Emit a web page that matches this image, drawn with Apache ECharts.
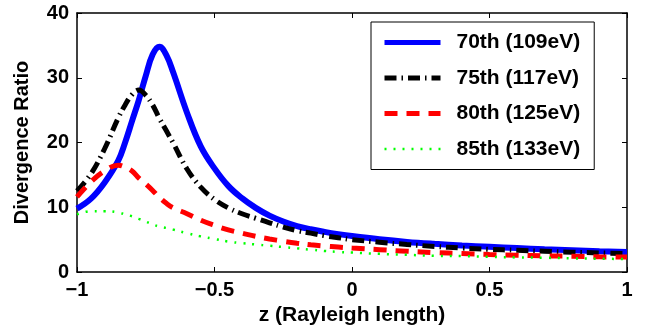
<!DOCTYPE html>
<html>
<head>
<meta charset="utf-8">
<script src="https://cdn.jsdelivr.net/npm/echarts@6.0.0/dist/echarts.min.js"></script>
<style>
  html, body { margin: 0; padding: 0; background: #fff; }
  #chart { width: 646px; height: 333px; }
</style>
</head>
<body>
<div id="chart"></div>
<script>
// z positions (Rayleigh lengths) where the curves were read
const zValues = [-1, -0.95, -0.9, -0.85, -0.825, -0.8, -0.775, -0.75, -0.725, -0.7,
  -0.675, -0.65, -0.6, -0.55, -0.5, -0.45, -0.4, -0.35, -0.3, -0.25, -0.2, -0.15,
  -0.1, -0.05, 0, 0.1, 0.2, 0.3, 0.4, 0.5, 0.6, 0.7, 0.8, 0.9, 1];

const h70 = [9.8, 11.3, 13.8, 17.2, 20.0, 23.3, 26.6, 30.3, 33.6, 34.8,
  33.5, 30.8, 24.6, 19.4, 16.0, 13.3, 11.4, 9.9, 8.7, 7.8, 7.1, 6.6,
  6.2, 5.85, 5.55, 5.05, 4.65, 4.35, 4.1, 3.9, 3.7, 3.5, 3.35, 3.2, 3.1];
const h75 = [12.5, 15.1, 19.0, 23.8, 25.8, 27.4, 28.1, 27.3, 25.8, 23.7,
  21.8, 19.9, 15.9, 13.1, 11.2, 9.9, 9.0, 8.3, 7.6, 6.95, 6.4, 6.0,
  5.6, 5.3, 5.0, 4.6, 4.25, 3.95, 3.7, 3.5, 3.35, 3.2, 3.05, 2.95, 2.85];
const h80 = [11.6, 13.9, 15.6, 16.5, 16.2, 15.6, 14.5, 13.6, 12.6, 11.5,
  10.6, 9.9, 9.0, 8.0, 7.2, 6.5, 6.0, 5.5, 5.1, 4.75, 4.45, 4.2,
  4.0, 3.85, 3.7, 3.45, 3.2, 3.0, 2.85, 2.7, 2.6, 2.5, 2.45, 2.35, 2.3];
const h85 = [8.9, 9.4, 9.4, 9.2, 8.9, 8.6, 8.2, 7.8, 7.35, 7.0,
  6.8, 6.55, 6.0, 5.5, 5.1, 4.7, 4.45, 4.25, 4.05, 3.85, 3.65, 3.45,
  3.25, 3.1, 3.0, 2.8, 2.65, 2.5, 2.45, 2.35, 2.25, 2.2, 2.1, 2.05, 2.0];

const seriesNames = ["70th (109eV)", "75th (117eV)", "80th (125eV)", "85th (133eV)"];
const colors = ["#0000ff", "#000000", "#ff0000", "#00ff00"];
const widths = [6, 5, 5, 2.5];
const dashes = ["solid", [12, 5, 1.5, 5], [13, 9], [2, 7]];

const font = "'Liberation Sans', Arial, sans-serif";
const pairs = (ys) => zValues.map((z, i) => [z, ys[i]]);
const fmt = (v) => String(v).replace("-", "\u2212");

const chart = echarts.init(document.getElementById("chart"));

const baseAxis = {
  axisLine: { show: true, onZero: false, lineStyle: { color: "#000", width: 1.5 } },
  axisTick: { show: true, inside: true, length: 5, lineStyle: { color: "#000", width: 1 } },
  splitLine: { show: false },
};

const legendItems = seriesNames.map((name, i) => ({
  name,
  itemStyle: { opacity: 0 },
  lineStyle: { color: colors[i], width: Math.min(widths[i], 5), type: dashes[i] },
}));

const option = {
  animation: false,
  backgroundColor: "#fff",
  grid: { left: 77, right: 19, top: 13, bottom: 61, outerBoundsMode: "none" },
  legend: {
    orient: "vertical",
    left: 371,
    top: 22,
    data: legendItems,
    itemWidth: 56,
    itemHeight: 14,
    itemGap: 14.5,
    padding: [10, 14, 10, 11],
    borderColor: "#000",
    borderWidth: 1,
    borderRadius: 0,
    backgroundColor: "#fff",
    itemStyle: { opacity: 0 },
    textStyle: {
      fontFamily: font,
      fontWeight: "bold",
      fontSize: 21,
      color: "#000",
      padding: [0, 0, 0, 11],
    },
  },
  xAxis: [
    {
      ...baseAxis,
      type: "value",
      position: "bottom",
      min: -1,
      max: 1,
      interval: 0.5,
      axisLabel: {
        fontFamily: font,
        fontWeight: "bold",
        fontSize: 20,
        color: "#000",
        margin: 8,
        formatter: fmt,
      },
      name: "z (Rayleigh length)",
      nameLocation: "middle",
      nameGap: 32,
      nameTextStyle: { fontFamily: font, fontWeight: "bold", fontSize: 21, color: "#000" },
    },
    {
      ...baseAxis,
      type: "value",
      position: "top",
      min: -1,
      max: 1,
      interval: 0.5,
      axisLabel: { show: false },
    },
  ],
  yAxis: [
    {
      ...baseAxis,
      type: "value",
      position: "left",
      min: 0,
      max: 40,
      interval: 10,
      axisLabel: {
        fontFamily: font,
        fontWeight: "bold",
        fontSize: 20,
        color: "#000",
        margin: 8,
      },
      name: "Divergence Ratio",
      nameLocation: "middle",
      nameGap: 45,
      nameTextStyle: { fontFamily: font, fontWeight: "bold", fontSize: 20, color: "#000" },
    },
    {
      ...baseAxis,
      type: "value",
      position: "right",
      min: 0,
      max: 40,
      interval: 10,
      axisLabel: { show: false },
    },
  ],
  series: seriesNames.map((name, i) => ({
    name,
    type: "line",
    data: pairs([h70, h75, h80, h85][i]),
    smooth: 0.4,
    symbol: "none",
    lineStyle: { color: colors[i], width: widths[i], type: dashes[i] },
    itemStyle: { color: colors[i] },
  })),
};

chart.setOption(option);
</script>
</body>
</html>
